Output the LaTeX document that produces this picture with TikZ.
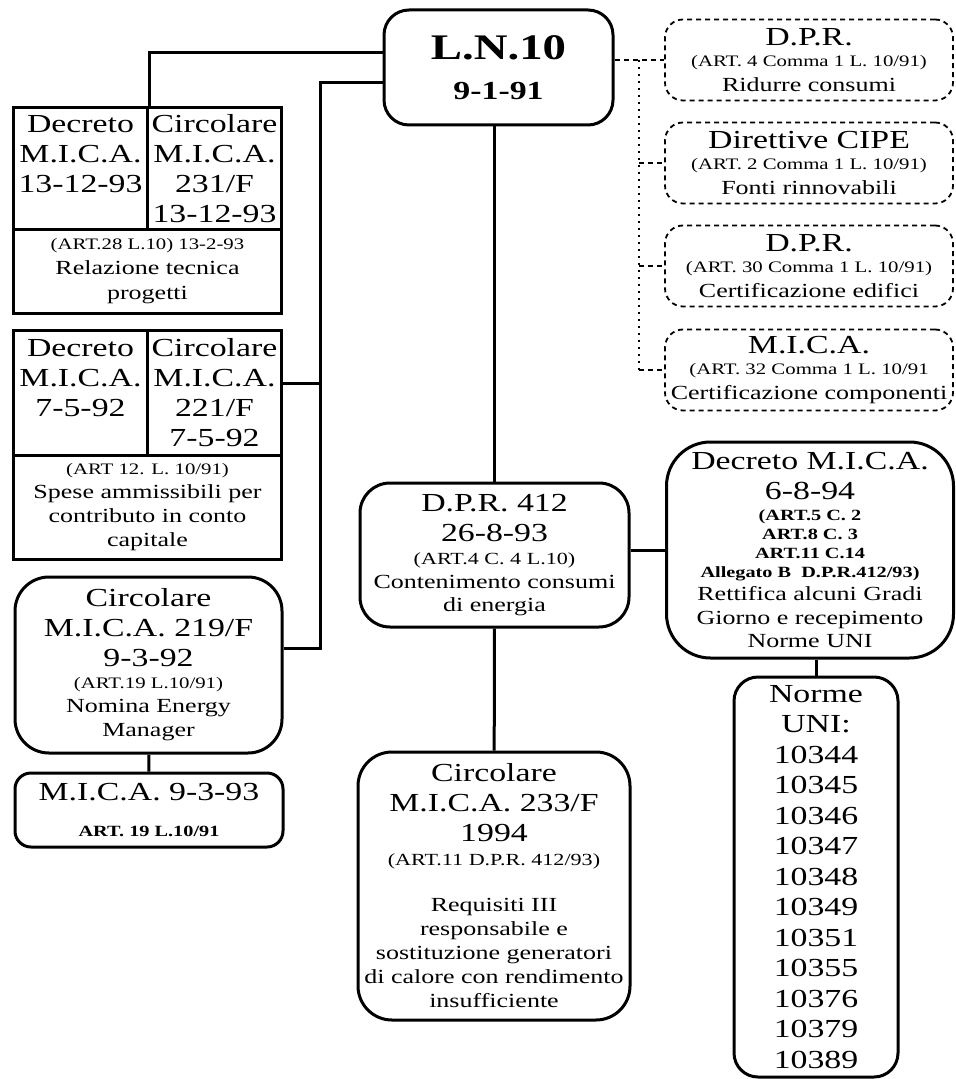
\documentclass[tikz,border=0pt]{standalone}
\usepackage{fontspec}
\setmainfont{Liberation Serif}[FakeStretch=1.3]
\usetikzlibrary{calc}
\newcommand{\hdfont}{\fontsize{13pt}{15pt}\selectfont}
\newcommand{\artfont}{\fontsize{8pt}{10pt}\selectfont}
\newcommand{\artbfont}{\fontsize{7.8pt}{9pt}\selectfont\bfseries}

\begin{document}
\begin{tikzpicture}[x=0.5pt, y=-0.5pt,
    line width=1.5pt,
    cell/.style={draw, line width=1.5pt, anchor=north west, inner sep=0pt, align=center},
    rbox/.style={draw, line width=1.5pt, rounded corners=#1, inner sep=0pt, align=center},
    rbox/.default=14pt,
    dbox/.style={draw, line width=0.9pt, dash pattern=on 2.5pt off 2pt, rounded corners=9pt,
      minimum width=144pt, minimum height=40.5pt, inner sep=0pt, align=center,
      font=\fontsize{10pt}{10.5pt}\selectfont},
    link/.style={line width=1.5pt},
    dashlink/.style={line width=0.9pt, dash pattern=on 2.5pt off 2pt},
    dotlink/.style={line width=0.9pt, dash pattern=on 1pt off 2.5pt}
  ]
    \useasboundingbox (0,0) rectangle (956,1079);

    \node[rbox=12.5pt, minimum width=114.5pt, minimum height=57.5pt,
      font=\fontsize{13pt}{20pt}\selectfont\bfseries] (ln10) at (498.5,67.5)
      {{\fontsize{18pt}{20pt}\selectfont L.N.10}\\9-1-91};

    \node[cell, minimum width=67pt, minimum height=61pt, font=\hdfont] (dec93) at (12,106)
      {Decreto\\M.I.C.A.\\13-12-93\\\mbox{}};
    \node[cell, minimum width=67pt, minimum height=61pt, font=\hdfont] (circ231) at (146,106)
      {Circolare\\M.I.C.A.\\231/F\\13-12-93};
    \node[cell, minimum width=134pt, minimum height=42pt, font=\fontsize{10pt}{12.5pt}\selectfont] (rel93) at (12,228)
      {{\artfont (ART.28 L.10) 13-2-93}\\Relazione tecnica\\progetti};

    \node[cell, minimum width=67pt, minimum height=62.5pt, font=\hdfont] (dec92) at (12,329)
      {Decreto\\M.I.C.A.\\7-5-92\\\mbox{}};
    \node[cell, minimum width=67pt, minimum height=62.5pt, font=\hdfont] (circ221) at (146,329)
      {Circolare\\M.I.C.A.\\221/F\\7-5-92};
    \node[cell, minimum width=134pt, minimum height=52pt, font=\fontsize{10pt}{12pt}\selectfont] (spese) at (12,454)
      {{\artfont (ART 12. L. 10/91)}\\Spese ammissibili per\\contributo in conto\\capitale};

    \node[rbox=17pt, minimum width=133.5pt, minimum height=88pt, font=\fontsize{10pt}{12pt}\selectfont] (circ219) at (148.5,665)
      {{\hdfont Circolare}\\[3pt]{\hdfont M.I.C.A. 219/F}\\[3pt]{\hdfont 9-3-92}\\[-1pt]{\artfont (ART.19 L.10/91)}\\Nomina Energy\\Manager};
    \node[rbox=8pt, minimum width=134pt, minimum height=37pt, font=\fontsize{7.8pt}{9pt}\selectfont\bfseries] (mica93) at (149,810)
      {{\hdfont\mdseries M.I.C.A. 9-3-93}\\[9.3pt]ART. 19 L.10/91};

    \node[rbox=15pt, minimum width=134.5pt, minimum height=72pt, font=\fontsize{10pt}{11.75pt}\selectfont] (dpr412) at (494.5,555)
      {{\hdfont D.P.R. 412}\\[3.25pt]{\hdfont 26-8-93}\\{\fontsize{8.5pt}{10pt}\selectfont (ART.4 C. 4 L.10)}\\Contenimento consumi\\di energia};
    \node[rbox=17pt, minimum width=136pt, minimum height=134pt, font=\fontsize{10pt}{12pt}\selectfont] (circ233) at (494,886)
      {{\hdfont Circolare}\\[3pt]{\hdfont M.I.C.A. 233/F}\\[3pt]{\hdfont 1994}\\{\fontsize{8.5pt}{10pt}\selectfont (ART.11 D.P.R. 412/93)}\\[11pt]Requisiti III\\responsabile e\\sostituzione generatori\\di calore con rendimento\\insufficiente};

    \node[rbox=22pt, minimum width=143.5pt, minimum height=108pt, font=\fontsize{10pt}{9.5pt}\selectfont] (dec94) at (810,550)
      {{\hdfont Decreto M.I.C.A.}\\[5.5pt]{\hdfont 6-8-94}\\[0.8pt]{\artbfont (ART.5 C. 2}\\{\artbfont ART.8 C. 3}\\{\artbfont ART.11 C.14}\\{\artbfont Allegato B~~D.P.R.412/93)}\\[2.2pt]Rettifica alcuni Gradi\\[2.25pt]Giorno e recepimento\\[2.25pt]Norme UNI};
    \node[rbox=12pt, minimum width=82pt, minimum height=200pt, font=\fontsize{13pt}{15.25pt}\selectfont] (norme) at (816,877)
      {Norme\\UNI:\\10344\\10345\\10346\\10347\\10348\\10349\\10351\\10355\\10376\\10379\\10389};

    \node[dbox] (dprA) at (809,60)
      {{\hdfont D.P.R.}\\{\artfont (ART. 4 Comma 1 L. 10/91)}\\[1.75pt]Ridurre consumi};
    \node[dbox] (cipeB) at (809,163)
      {{\hdfont Direttive CIPE}\\{\artfont (ART. 2 Comma 1 L. 10/91)}\\[1.75pt]Fonti rinnovabili};
    \node[dbox] (dprC) at (809,266)
      {{\hdfont D.P.R.}\\{\artfont (ART. 30 Comma 1 L. 10/91)}\\[1.75pt]Certificazione edifici};
    \node[dbox] (micaD) at (809,370)
      {{\hdfont M.I.C.A.}\\{\artfont (ART. 32 Comma 1 L. 10/91}\\[1.75pt]Certificazione componenti};

    \coordinate (lbus) at (320,0);
    \coordinate (rbus) at (639,0);
    \path ([yshift=4.75pt]circ221.east) coordinate (j221);
    \path ([yshift=8.5pt]circ219.east) coordinate (j219);

    \draw[link] ([yshift=7.25pt]ln10.west) -| (dec93.north east);
    \draw[link] ([yshift=-7.75pt]ln10.west) -| (lbus |- j219) -- (j219);
    \draw[link] (j221) -- (lbus |- j221);
    \draw[link] (circ219) -- (mica93);
    \draw[link] (dpr412.north |- ln10.south) -- (dpr412.north);
    \draw[link] (dpr412) -- (circ233);
    \draw[link] (dec94.west -| dpr412.east) -- (dec94.west);
    \draw[link] (norme.north |- dec94.south) -- (norme.north);

    \draw[dashlink] (ln10.east |- dprA.west) -- (dprA.west);
    \draw[dotlink] (rbus |- dprA.west) -- (rbus |- micaD.west);
    \foreach \n in {cipeB, dprC, micaD}
      \draw[dashlink] (rbus |- \n.west) -- (\n.west);
  \end{tikzpicture}
\end{document}
